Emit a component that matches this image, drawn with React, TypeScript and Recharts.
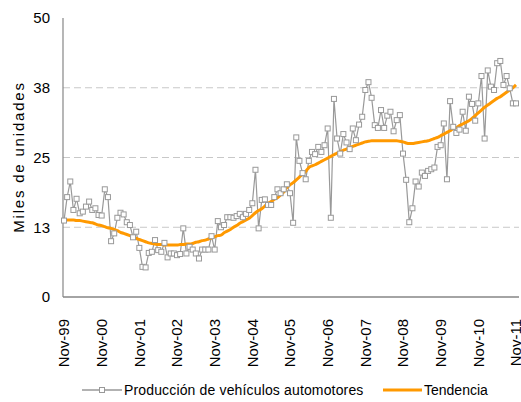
import React from 'react';
import { LineChart, Line, XAxis, YAxis, ReferenceLine, Legend } from 'recharts';

// Monthly production, Nov-99 .. Nov-11 (thousands of units)
const produccion = [
  13.7, 17.9, 20.7, 15.6, 17.6, 15.0, 15.3, 16.2, 17.1, 15.6,
  15.9, 14.7, 14.6, 19.3, 17.9, 10.0, 11.4, 14.2, 15.1, 14.8,
  13.4, 12.9, 10.7, 11.7, 8.8, 5.4, 5.3, 7.9, 8.1, 10.2,
  8.4, 8.1, 9.7, 7.1, 7.8, 7.8, 7.5, 7.7, 12.3, 7.8,
  9.0, 8.5, 7.8, 6.9, 8.5, 8.5, 8.5, 10.9, 8.5, 13.6,
  12.5, 12.9, 14.3, 14.3, 14.2, 14.5, 14.9, 14.3, 14.9, 15.6,
  16.8, 22.8, 12.3, 17.4, 17.5, 16.5, 16.5, 17.9, 19.3, 18.6,
  19.3, 20.2, 18.6, 13.3, 28.6, 24.4, 22.2, 21.1, 24.4, 26.0,
  25.6, 26.9, 26.0, 27.2, 30.2, 14.2, 35.5, 28.4, 25.7, 29.2,
  27.7, 26.5, 30.2, 28.1, 30.9, 32.3, 37.1, 38.5, 35.7, 30.8,
  30.3, 33.5, 30.3, 32.5, 33.2, 29.7, 31.7, 32.6, 25.7, 21.0,
  13.4, 15.9, 20.7, 19.8, 22.3, 21.7, 22.6, 22.9, 23.2, 26.9,
  27.2, 31.1, 21.1, 35.1, 30.5, 29.4, 30.0, 33.2, 29.8, 35.9,
  34.6, 31.6, 34.7, 39.6, 28.4, 40.6, 37.7, 37.1, 41.9, 42.3,
  38.0, 39.6, 37.4, 34.7, 34.7,
];

const tendencia = [
  13.8, 13.8, 13.8, 13.8, 13.7, 13.7, 13.6, 13.5, 13.4, 13.3,
  13.1, 12.9, 12.8, 12.6, 12.4, 12.3, 12.1, 11.9, 11.6, 11.4,
  11.2, 11.0, 10.8, 10.5, 10.3, 10.1, 9.9, 9.7, 9.6, 9.5,
  9.4, 9.4, 9.3, 9.3, 9.3, 9.3, 9.3, 9.4, 9.4, 9.5,
  9.5, 9.6, 9.8, 9.9, 10.1, 10.2, 10.4, 10.6, 10.8, 11.0,
  11.1, 11.5, 11.8, 12.1, 12.5, 12.8, 13.2, 13.5, 13.8, 14.1,
  14.6, 15.1, 15.5, 15.8, 16.3, 16.8, 17.1, 17.5, 17.8, 18.3,
  18.8, 19.6, 20.1, 20.5, 21.0, 21.5, 22.0, 22.5, 23.2, 23.5,
  23.7, 24.0, 24.3, 24.6, 24.9, 25.2, 25.5, 25.8, 26.0, 26.3,
  26.5, 26.8, 27.0, 27.2, 27.4, 27.6, 27.8, 27.9, 28.0, 28.0,
  28.0, 28.0, 28.0, 28.0, 28.0, 28.0, 28.0, 27.9, 27.8, 27.6,
  27.5, 27.5, 27.6, 27.7, 27.8, 27.9, 28.0, 28.2, 28.4, 28.6,
  28.9, 29.2, 29.5, 29.8, 30.2, 30.4, 30.7, 31.0, 31.3, 31.6,
  32.0, 32.5, 33.0, 33.5, 34.0, 34.4, 34.8, 35.2, 35.6, 35.9,
  36.3, 36.7, 37.1, 37.5, 38.0,
];

const mesesAbrev = ['Ene', 'Feb', 'Mar', 'Abr', 'May', 'Jun', 'Jul', 'Ago', 'Sep', 'Oct', 'Nov', 'Dic'];

const xTicks = ['Nov-99', 'Nov-00', 'Nov-01', 'Nov-02', 'Nov-03', 'Nov-04', 'Nov-05',
  'Nov-06', 'Nov-07', 'Nov-08', 'Nov-09', 'Nov-10', 'Nov-11'];
const yTicks = [0, 12.5, 25, 37.5, 50];
const gridLines = [12.5, 25, 37.5];

// month labels starting at Nov-1999
const meses = produccion.map((_, i) => {
  const m = (10 + i) % 12;
  const y = 1999 + Math.floor((10 + i) / 12);
  return `${mesesAbrev[m]}-${String(y % 100).padStart(2, '0')}`;
});

const data = meses.map((mes, i) => ({
  mes,
  produccion: produccion[i],
  tendencia: tendencia[i],
}));

const FONT = '"Liberation Sans", Arial, sans-serif';
const GRAY = '#999999';
const ORANGE = '#FF9900';

const SquareDot = (props: any) => {
  const { cx, cy, index } = props;
  if (cx == null || cy == null) return null;
  return (
    <rect key={`dot-${index}`} x={cx - 2.5} y={cy - 2.5} width={5} height={5}
      fill="#fff" stroke={GRAY} strokeWidth={1} />
  );
};

const RotatedTick = (props: any) => {
  const { x, y, payload } = props;
  return (
    <g transform={`translate(${x},${y})`}>
      <text transform="rotate(-90)" x={-22} dy="0.35em" textAnchor="end"
        fontSize={15} fontFamily={FONT} fill="#000">
        {payload.value}
      </text>
    </g>
  );
};

const LegendContent = () => (
  <svg width={521} height={24} style={{ display: 'block' }}>
    <line x1={82} y1={12} x2={122} y2={12} stroke={GRAY} strokeWidth={1.5} />
    <rect x={99.5} y={9.5} width={5} height={5} fill="#fff" stroke={GRAY} strokeWidth={1} />
    <text x={124} y={12} dominantBaseline="central" fontSize={14} fontFamily={FONT}
      letterSpacing={0.15} fill="#000">Producción de vehículos automotores</text>
    <line x1={383} y1={12} x2={422} y2={12} stroke={ORANGE} strokeWidth={3} />
    <text x={424} y={12} dominantBaseline="central" fontSize={14} fontFamily={FONT}
      fill="#000">Tendencia</text>
  </svg>
);

const App: React.FC = () => {
  return (
    <div style={{ position: 'absolute', left: 0, top: 0, width: 521, height: 402, background: '#fff' }}>
      <LineChart width={521} height={402} data={data}
        margin={{ top: 18, right: 2, left: 0, bottom: 0 }}>
        <XAxis dataKey="mes" ticks={xTicks} interval={0} tick={<RotatedTick />}
          tickLine={false} tickSize={0} tickMargin={0} height={81}
          padding={{ left: 1, right: 3 }}
          axisLine={{ stroke: '#868686', strokeWidth: 1.5 }} />
        <YAxis domain={[0, 50]} ticks={yTicks} width={63}
          tickFormatter={(v: number) => String(Math.round(v))}
          tick={{ fontSize: 15, fontFamily: FONT, fill: '#000' }}
          tickLine={false} tickSize={0} tickMargin={13}
          axisLine={{ stroke: '#868686', strokeWidth: 1.2 }}
          label={{
            content: () => (
              <text transform="translate(18,157) rotate(-90)" textAnchor="middle"
                dominantBaseline="central" fontSize={15} fontFamily={FONT}
                letterSpacing={1.8} fill="#000">Miles de unidades</text>
            ),
          }} />
        <YAxis yAxisId="r" orientation="right" width={0} tick={false} tickLine={false}
          axisLine={{ stroke: '#868686', strokeWidth: 1.2 }} />
        {gridLines.map(v => (
          <ReferenceLine key={v} y={v} stroke="#c8c8c8" strokeWidth={1} strokeDasharray="7 4" />
        ))}
        <Legend verticalAlign="bottom" content={<LegendContent />}
          wrapperStyle={{ left: 0, bottom: 0, width: 521, height: 24 }} />
        <Line type="linear" dataKey="produccion" name="Producción de vehículos automotores"
          stroke={GRAY} strokeWidth={1.2} dot={<SquareDot />} activeDot={false}
          isAnimationActive={false} />
        <Line type="monotone" dataKey="tendencia" name="Tendencia"
          stroke={ORANGE} strokeWidth={3} dot={false} activeDot={false}
          isAnimationActive={false} />
      </LineChart>
    </div>
  );
};

export default App;
